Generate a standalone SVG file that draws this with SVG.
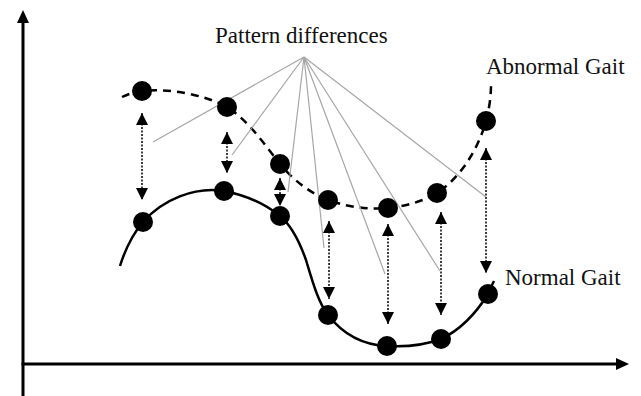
<svg xmlns="http://www.w3.org/2000/svg" width="641" height="396" viewBox="0 0 641 396">
<style>
.axis{stroke:#000;stroke-width:3;fill:none}
.head{fill:#000;stroke:none}
.abn{fill:none;stroke:#000;stroke-width:2.5;stroke-dasharray:8,6}
.nrm{fill:none;stroke:#000;stroke-width:2.5}
.dot{fill:#000}
.ptr{stroke:#a6a6a6;stroke-width:1.2;fill:none}
.diff{stroke:#000;stroke-width:1.5;stroke-dasharray:2,1.5;fill:none;marker-start:url(#ah);marker-end:url(#ah)}
.lbl{font-family:"Liberation Serif","Times New Roman",serif;font-size:23px;fill:#111}
</style>
<defs>
<marker id="ah" markerUnits="userSpaceOnUse" markerWidth="12" markerHeight="12" refX="12" refY="6" orient="auto-start-reverse" viewBox="0 0 12 12">
<path d="M0,0 L12,6 L0,12 z" fill="#000"/>
</marker>
</defs>
<rect width="641" height="396" fill="#fff"/>
<g id="axes">
<line class="axis" x1="23" y1="396" x2="23" y2="20"/>
<polygon class="head" points="23,10 17,23 29,23"/>
<line class="axis" x1="21.5" y1="364" x2="618" y2="364"/>
<polygon class="head" points="629,364 616,358 616,370"/>
</g>
<g id="curves">
<path id="abnormal-curve" class="abn" d="M122,97 C128,94 135,92 142,91 C170,88 205,95 227,107 C248,120 265,145 280,164 C293,180 310,193 328,200 C348,207 368,210 388,208 C405,206 422,202 437,193 C460,178 478,150 486,121 C489,110 491,97 491,85"/>
<path id="normal-curve" class="nrm" d="M120,266 C125,250 132,235 143,222 C162,200 195,186 224,191 C245,195 265,204 280,216 C292,226 300,243 306,260 C312,280 318,302 328,315 C342,333 362,345 387,346 C405,347 425,345 441,339 C458,331 475,315 488,294 C490,289 492,285 494,281"/>
</g>
<g id="connectors">
<g id="pattern-lines">
<line class="ptr" x1="304" y1="57" x2="153" y2="142"/>
<line class="ptr" x1="304" y1="57" x2="232" y2="155"/>
<line class="ptr" x1="304" y1="57" x2="288" y2="192"/>
<line class="ptr" x1="304" y1="57" x2="324" y2="248"/>
<line class="ptr" x1="304" y1="57" x2="385" y2="274"/>
<line class="ptr" x1="304" y1="57" x2="440" y2="271"/>
<line class="ptr" x1="304" y1="57" x2="486" y2="197"/>
</g>
<g id="difference-arrows">
<line class="diff" x1="142" y1="113" x2="142" y2="200"/>
<line class="diff" x1="227" y1="132" x2="227" y2="173"/>
<line class="diff" x1="280" y1="178" x2="280" y2="206"/>
<line class="diff" x1="329" y1="221" x2="329" y2="299"/>
<line class="diff" x1="388" y1="224" x2="388" y2="324"/>
<line class="diff" x1="441" y1="212" x2="441" y2="315"/>
<line class="diff" x1="486" y1="148" x2="486" y2="273"/>
</g>
</g>
<g id="abnormal-points">
<g id="a1"><circle class="dot" cx="142" cy="91" r="10"/></g>
<g id="a2"><circle class="dot" cx="227" cy="107" r="10"/></g>
<g id="a3"><circle class="dot" cx="280" cy="164" r="10"/></g>
<g id="a4"><circle class="dot" cx="328" cy="200" r="10"/></g>
<g id="a5"><circle class="dot" cx="388" cy="208" r="10"/></g>
<g id="a6"><circle class="dot" cx="437" cy="193" r="10"/></g>
<g id="a7"><circle class="dot" cx="486" cy="121" r="10"/></g>
</g>
<g id="normal-points">
<g id="n1"><circle class="dot" cx="143" cy="222" r="10"/></g>
<g id="n2"><circle class="dot" cx="224" cy="191" r="10"/></g>
<g id="n3"><circle class="dot" cx="280" cy="216" r="10"/></g>
<g id="n4"><circle class="dot" cx="328" cy="315" r="10"/></g>
<g id="n5"><circle class="dot" cx="387" cy="346" r="10"/></g>
<g id="n6"><circle class="dot" cx="441" cy="339" r="10"/></g>
<g id="n7"><circle class="dot" cx="488" cy="294" r="10"/></g>
</g>
<g id="label-pattern"><text class="lbl" x="215" y="43">Pattern differences</text></g>
<g id="label-abnormal"><text class="lbl" x="486" y="74">Abnormal Gait</text></g>
<g id="label-normal"><text class="lbl" x="505" y="285">Normal Gait</text></g>
</svg>
